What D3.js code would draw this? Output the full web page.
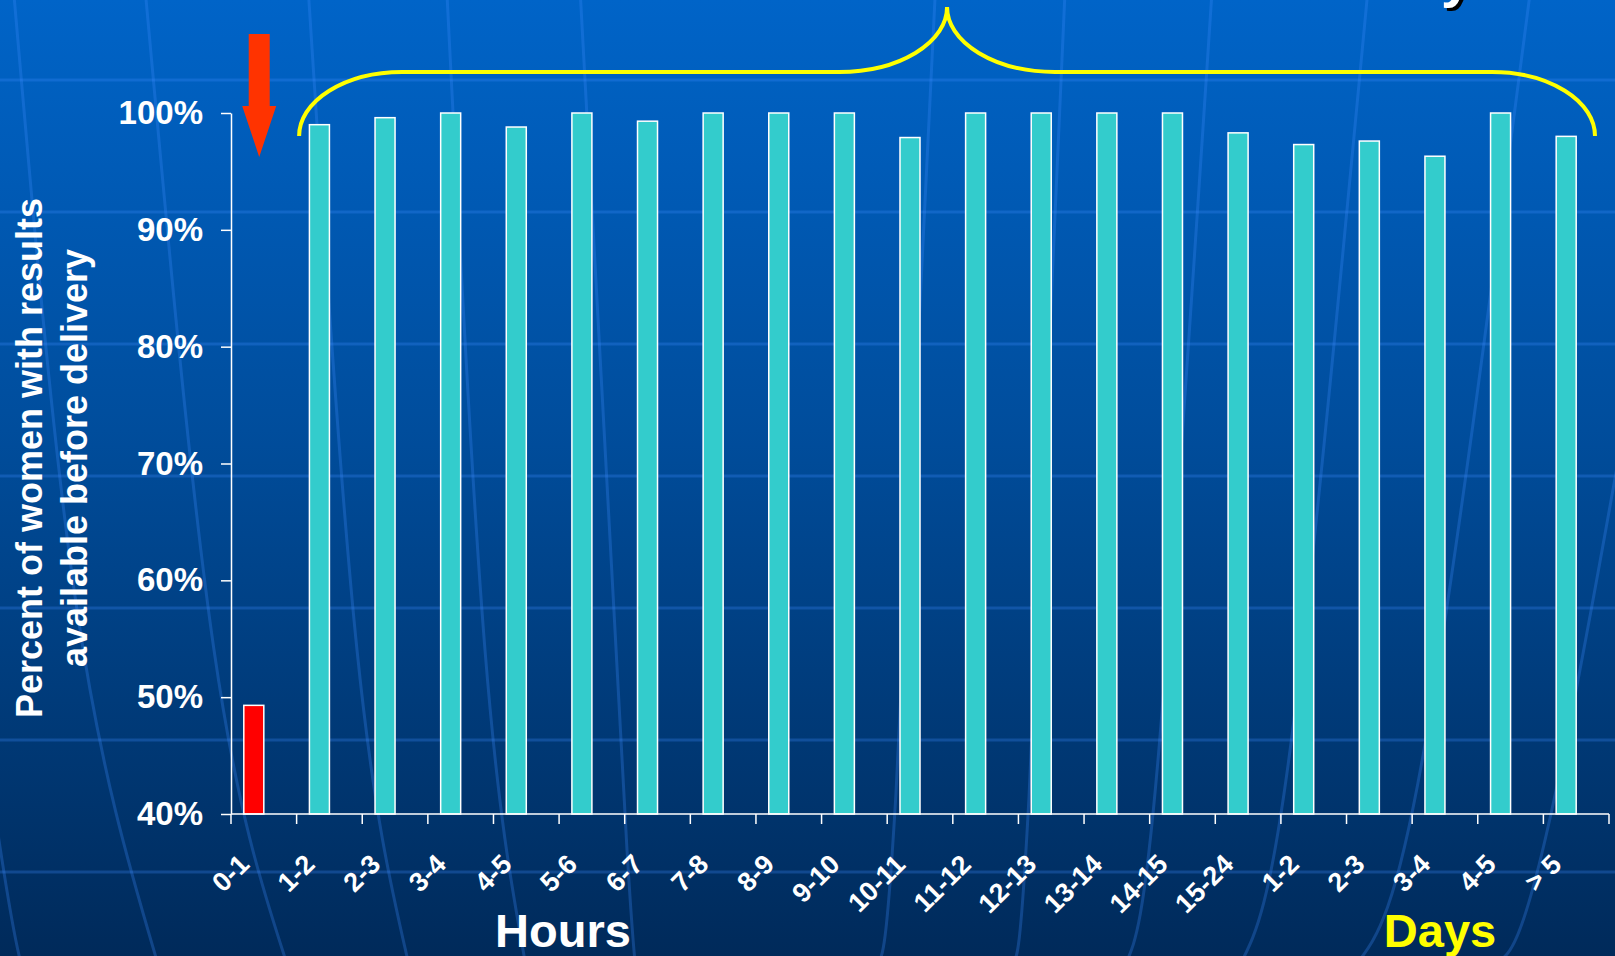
<!DOCTYPE html>
<html>
<head>
<meta charset="utf-8">
<script src="https://cdn.jsdelivr.net/npm/d3@7"></script>
<style>
  html, body { margin: 0; padding: 0; background: #003a7a; }
  svg { display: block; }
  text { font-family: "Liberation Sans", Arial, sans-serif; font-weight: bold; }
</style>
</head>
<body>
<svg id="chart" width="1615" height="956"></svg>
<script>
// ---------------- data ----------------
const hourLabels = ["0-1","1-2","2-3","3-4","4-5","5-6","6-7","7-8","8-9","9-10","10-11","11-12","12-13","13-14","14-15","15-24"];
const hourValues = [49.3, 99.0, 99.6, 100, 98.8, 100, 99.3, 100, 100, 100, 97.9, 100, 100, 100, 100, 98.3];
const dayLabels  = ["1-2","2-3","3-4","4-5","> 5"];
const dayValues  = [97.3, 97.6, 96.3, 100, 98.0];
const highlighted = ["0-1"];            // hour bins drawn in red
const yTicks = [40, 50, 60, 70, 80, 90, 100];
const yTitle = ["Percent of women with results", "available before delivery"];
const groupTitles = ["Hours", "Days"];

// ---------------- build rows ----------------
const rows = [
  ...hourLabels.map((l, i) => ({ key: "h" + i, label: l, value: hourValues[i], group: "Hours", hot: highlighted.includes(l) })),
  ...dayLabels.map((l, i) => ({ key: "d" + i, label: l, value: dayValues[i], group: "Days", hot: false }))
];

const svg = d3.select("#chart");
const W = 1615, H = 956;

// ---------------- background ----------------
const defs = svg.append("defs");
const grad = defs.append("linearGradient").attr("id", "bg").attr("x1", 0).attr("y1", 0).attr("x2", 0).attr("y2", 1);
grad.append("stop").attr("offset", "0%").attr("stop-color", "#0064c8");
grad.append("stop").attr("offset", "45%").attr("stop-color", "#004d9c");
grad.append("stop").attr("offset", "100%").attr("stop-color", "#002a5a");
svg.append("rect").attr("width", W).attr("height", H).attr("fill", "url(#bg)");

const deco = svg.append("g").attr("fill", "none").attr("stroke", "rgba(60,140,255,0.28)");
// decorative horizontal bands of the slide template
d3.range(80, H, 132).forEach(yy => {
  deco.append("line").attr("x1", 0).attr("x2", W).attr("y1", yy).attr("y2", yy).attr("stroke-width", 3);
});
// decorative globe meridians of the slide template: [mid point, bottom x]
const meridians = [
  [[0, 847], 33], [[77, 610], 157], [[214, 650], 286], [[357, 650], 408],
  [[485, 650], 525], [[627, 850], 640], [[896, 793], 878], [[1029, 797], 1013],
  [[1158, 760], 1127], [[1291, 743], 1242], [[1424, 750], 1359], [[1554, 800], 1491]
];
const curve = d3.line().curve(d3.curveNatural);
meridians.forEach(([m, xb]) => {
  const s = (xb - m[0]) / (H - m[1]);
  const top = [m[0] - s * 0.45 * m[1], -10];
  deco.append("path").attr("stroke-width", 3).attr("d", curve([top, m, [xb, H + 5]]));
});

// ---------------- scales ----------------
const x = d3.scaleBand().domain(rows.map(r => r.key)).range([231, 1609]).padding(0);
const inner = d3.scaleBand().domain(["result", "spare"]).range([0, x.bandwidth()]).paddingInner(0).paddingOuter(0.64);
const y = d3.scaleLinear().domain([40, 100]).range([814, 113]);

// ---------------- title fragment (slide title runs off the top edge) ----------------
const titleFrag = svg.append("g").style("font-family", "'DejaVu Sans', Verdana, sans-serif");
titleFrag.append("text").attr("x", 1441).attr("y", -4).attr("font-size", 56)
  .attr("fill", "#000").attr("transform", "translate(3,3)").text("y");
titleFrag.append("text").attr("x", 1441).attr("y", -4).attr("font-size", 56)
  .attr("fill", "#fff").text("y");

// ---------------- bars ----------------
svg.append("g").selectAll("rect").data(rows).join("rect")
  .attr("x", d => x(d.key) + inner("result"))
  .attr("width", inner.bandwidth())
  .attr("y", d => y(d.value))
  .attr("height", d => y(40) - y(d.value))
  .attr("fill", d => d.hot ? "#ff0000" : "#33cccc")
  .attr("stroke", "#ffffff")
  .attr("stroke-width", 1.5);

// ---------------- y axis ----------------
const yAxis = svg.append("g").attr("transform", `translate(${x.range()[0]},0)`)
  .call(d3.axisLeft(y).tickValues(yTicks).tickFormat(d => d + "%").tickSize(10).tickPadding(18).tickSizeOuter(0));
yAxis.select(".domain").attr("stroke", "#fff").attr("stroke-width", 1.5);
yAxis.selectAll(".tick line").attr("stroke", "#fff").attr("stroke-width", 1.5);
yAxis.selectAll(".tick text").attr("fill", "#fff").attr("font-size", 33)
  .style("font-family", "'Liberation Sans', Arial, sans-serif").style("font-weight", "bold");

// ---------------- x axis (ticks at category boundaries) ----------------
const xAxisG = svg.append("g");
const [x0, x1] = x.range();
xAxisG.append("line").attr("x1", x0).attr("x2", x1).attr("y1", y(40)).attr("y2", y(40))
  .attr("stroke", "#fff").attr("stroke-width", 1.5);
const boundaries = rows.map(r => x(r.key)).concat([x1]);
xAxisG.selectAll("line.tk").data(boundaries).join("line").attr("class", "tk")
  .attr("x1", d => d).attr("x2", d => d).attr("y1", y(40)).attr("y2", y(40) + 10)
  .attr("stroke", "#fff").attr("stroke-width", 1.5);
xAxisG.selectAll("text").data(rows).join("text")
  .attr("transform", d => `translate(${x(d.key) + x.bandwidth() / 2 - 13},${y(40) + 52}) rotate(-45)`)
  .attr("text-anchor", "end")
  .attr("fill", "#fff").attr("font-size", 27)
  .text(d => d.label);

// group titles
const groupCenters = { Hours: 563, Days: 1440 };
svg.selectAll("text.grp").data(groupTitles).join("text").attr("class", "grp")
  .attr("x", d => groupCenters[d]).attr("y", 947)
  .attr("text-anchor", "middle").attr("font-size", 47)
  .attr("fill", d => d === "Days" ? "#ffff00" : "#ffffff")
  .text(d => d);

// ---------------- y title ----------------
svg.selectAll("text.ytitle").data(yTitle).join("text").attr("class", "ytitle")
  .attr("transform", (d, i) => `translate(${42 + i * 45},458) rotate(-90)`)
  .attr("text-anchor", "middle").attr("font-size", 36).attr("fill", "#fff")
  .text(d => d);

// ---------------- annotations ----------------
// red arrow pointing at the 0-1 bar
const ax = x(rows[0].key) + x.bandwidth() * 0.43;
const top100 = y(100);
svg.append("path").attr("fill", "#ff3300")
  .attr("d", `M${ax - 10.5},${top100 - 79} L${ax + 10.5},${top100 - 79} L${ax + 10.5},${top100 - 7}
              L${ax + 17},${top100 - 7} L${ax},${top100 + 44} L${ax - 17},${top100 - 7} L${ax - 10.5},${top100 - 7} Z`);

// yellow brace over all bars from 1-2 hours onward
const bl = x(rows[1].key) + 2.5, br = x1 - 14, bm = (bl + br) / 2;
const yEnd = top100 + 23, yLine = top100 - 41, yPeak = top100 - 106;
const rx1 = 103, rx2 = 108;
svg.append("path").attr("fill", "none").attr("stroke", "#ffff00").attr("stroke-width", 4)
  .attr("d", `M${bl},${yEnd} A${rx1},${yEnd - yLine} 0 0 1 ${bl + rx1},${yLine}
              L${bm - rx2},${yLine} A${rx2},${yLine - yPeak} 0 0 0 ${bm},${yPeak}
              A${rx2},${yLine - yPeak} 0 0 0 ${bm + rx2},${yLine}
              L${br - rx1},${yLine} A${rx1},${yEnd - yLine} 0 0 1 ${br},${yEnd}`);
</script>
</body>
</html>
